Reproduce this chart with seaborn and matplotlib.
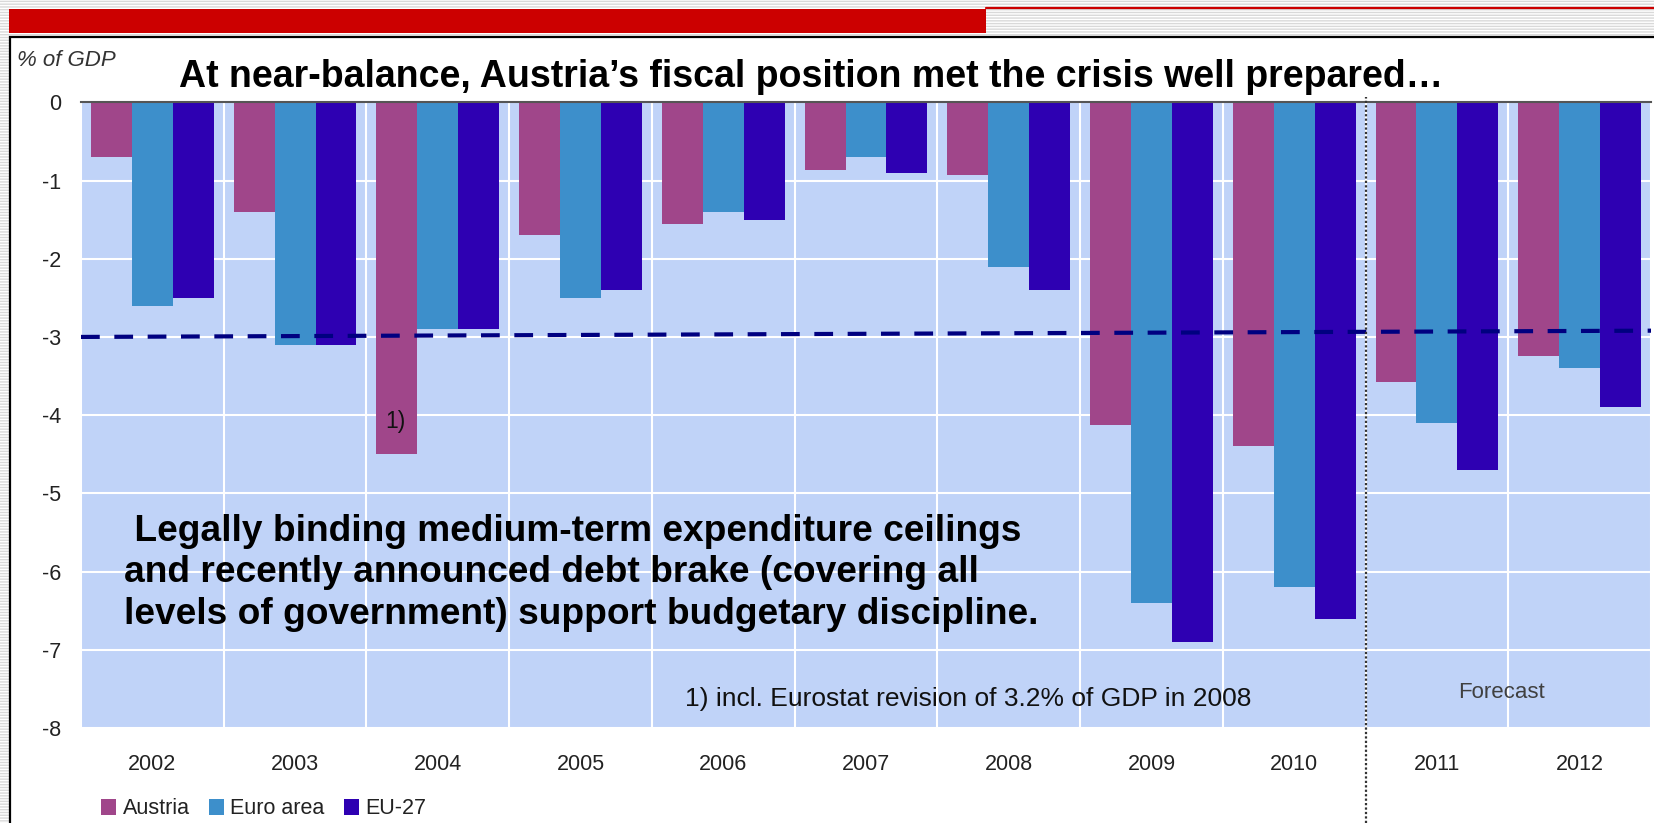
import numpy as np
import pandas as pd
import seaborn as sns
import matplotlib.pyplot as plt
from matplotlib.patches import Rectangle
from matplotlib.lines import Line2D

# General government balance, % of GDP
years = ['2002', '2003', '2004', '2005', '2006', '2007', '2008', '2009', '2010', '2011', '2012']
austria = [-0.7, -1.4, -4.5, -1.7, -1.56, -0.87, -0.93, -4.13, -4.4, -3.58, -3.25]
euro_area = [-2.6, -3.1, -2.9, -2.5, -1.4, -0.7, -2.1, -6.4, -6.2, -4.1, -3.4]
eu27 = [-2.5, -3.1, -2.9, -2.4, -1.5, -0.9, -2.4, -6.9, -6.6, -4.7, -3.9]
series_names = ['Austria', 'Euro area', 'EU-27']
y_ticks = [0, -1, -2, -3, -4, -5, -6, -7, -8]
y_tick_labels = ['0', '-1', '-2', '-3', '-4', '-5', '-6', '-7', '-8']
ref_line = [-3.0, -2.92]  # hand-drawn 3% line, slightly tilted

title = 'At near-balance, Austria\u2019s fiscal position met the crisis well prepared\u2026'
box_text = (' Legally binding medium-term expenditure ceilings\n'
            'and recently announced debt brake (covering all\n'
            'levels of government) support budgetary discipline.')
footnote = '1) incl. Eurostat revision of 3.2% of GDP in 2008'

colors = ['#A0468A', '#3D8FCB', '#2E00B2']

df = pd.DataFrame({
    'Year': years * 3,
    'Value': austria + euro_area + eu27,
    'Series': [s for s in series_names for _ in years],
})

sns.set_theme(style='white')
plt.rcParams['font.family'] = ['Liberation Sans', 'DejaVu Sans']
plt.rcParams['axes.unicode_minus'] = False

W, H = 1654, 823
fig = plt.figure(figsize=(W / 100, H / 100), dpi=100)

def fx(px):
    return px / W

def fy(py):
    return 1 - py / H

# slide decoration: striped background, white chart box, red header bar
fig.patches.append(Rectangle((0, 0), 1, 1, transform=fig.transFigure, facecolor='white',
                             edgecolor='#d9d9d9', hatch='------', lw=0, zorder=-3))
fig.patches.append(Rectangle((fx(10), -0.05), 1.0, fy(37) + 0.05, transform=fig.transFigure,
                             facecolor='white', edgecolor='black', lw=1.6, zorder=-2))
fig.patches.append(Rectangle((fx(9), fy(33)), fx(986 - 9), 24 / H, transform=fig.transFigure,
                             facecolor='#CC0000', lw=0, zorder=-1))
fig.add_artist(Line2D([fx(986), 1], [fy(8), fy(8)], color='#CC0000', lw=1.6, zorder=-1))

ax = fig.add_axes([fx(81), fy(728), fx(1651 - 81), (728 - 102.3) / H])
ax.set_zorder(2)
sns.barplot(data=df, x='Year', y='Value', hue='Series', palette=colors, width=0.86,
            saturation=1, linewidth=0, ax=ax)

ax.set_facecolor('#C0D3F8')
ax.set_xlim(-0.5, 10.5)
ax.set_ylim(-8, 0)
ax.set_yticks(y_ticks)
ax.set_yticklabels(y_tick_labels)
ax.set_xticks(np.arange(-0.5, 11, 1), minor=True)
ax.set_axisbelow(True)
ax.grid(False)
ax.grid(which='major', axis='y', color='white', lw=1.5)
ax.grid(which='minor', axis='x', color='white', lw=1.5)
ax.tick_params(axis='both', which='both', length=0, labelsize=15.5, colors='#222222')
ax.tick_params(axis='x', pad=19)
ax.tick_params(axis='y', pad=14)
for side in ['left', 'right', 'bottom']:
    ax.spines[side].set_visible(False)
ax.spines['top'].set_color('#555555')
ax.spines['top'].set_linewidth(1.5)
ax.set_xlabel('')
ax.set_ylabel('')

# 3% reference line and forecast divider
ax.plot([-0.5, 10.5], ref_line, color='#000080', lw=3.0, dashes=(4.5, 3.5),
        zorder=5, clip_on=False)
ax.axvline(8.5, ymin=-0.152, ymax=1.008, clip_on=False, color='#333333', lw=1.6,
           ls=(0, (1, 1)), zorder=6)

ax.text(1.70, -4.08, '1)', ha='center', va='center', fontsize=16.5, color='#111111')

handles, labels = ax.get_legend_handles_labels()
ax.legend(handles, labels, loc='center left', bbox_to_anchor=(fx(101), fy(809)),
          bbox_transform=fig.transFigure, ncol=3, frameon=False, fontsize=15.5,
          handlelength=0.7, handleheight=0.7, handletextpad=0.3, columnspacing=0.9,
          borderpad=0, borderaxespad=0, labelcolor='#222222')

fig.text(fx(17), fy(60), '% of GDP', fontsize=16, style='italic', color='#333333', va='center')
fig.text(fx(179), fy(77), title, fontsize=27, fontweight='bold', va='center', ha='left',
         color='black')
fig.text(fx(124), fy(573), box_text, fontsize=26.7, fontweight='bold', va='center', ha='left',
         linespacing=1.24, color='black')
fig.text(fx(968), fy(699), footnote, fontsize=19, ha='center', va='center', color='#111111')
fig.text(fx(1502), fy(693), 'Forecast', fontsize=16, ha='center', va='center', color='#404040')

fig.savefig('out.png', dpi=100)
